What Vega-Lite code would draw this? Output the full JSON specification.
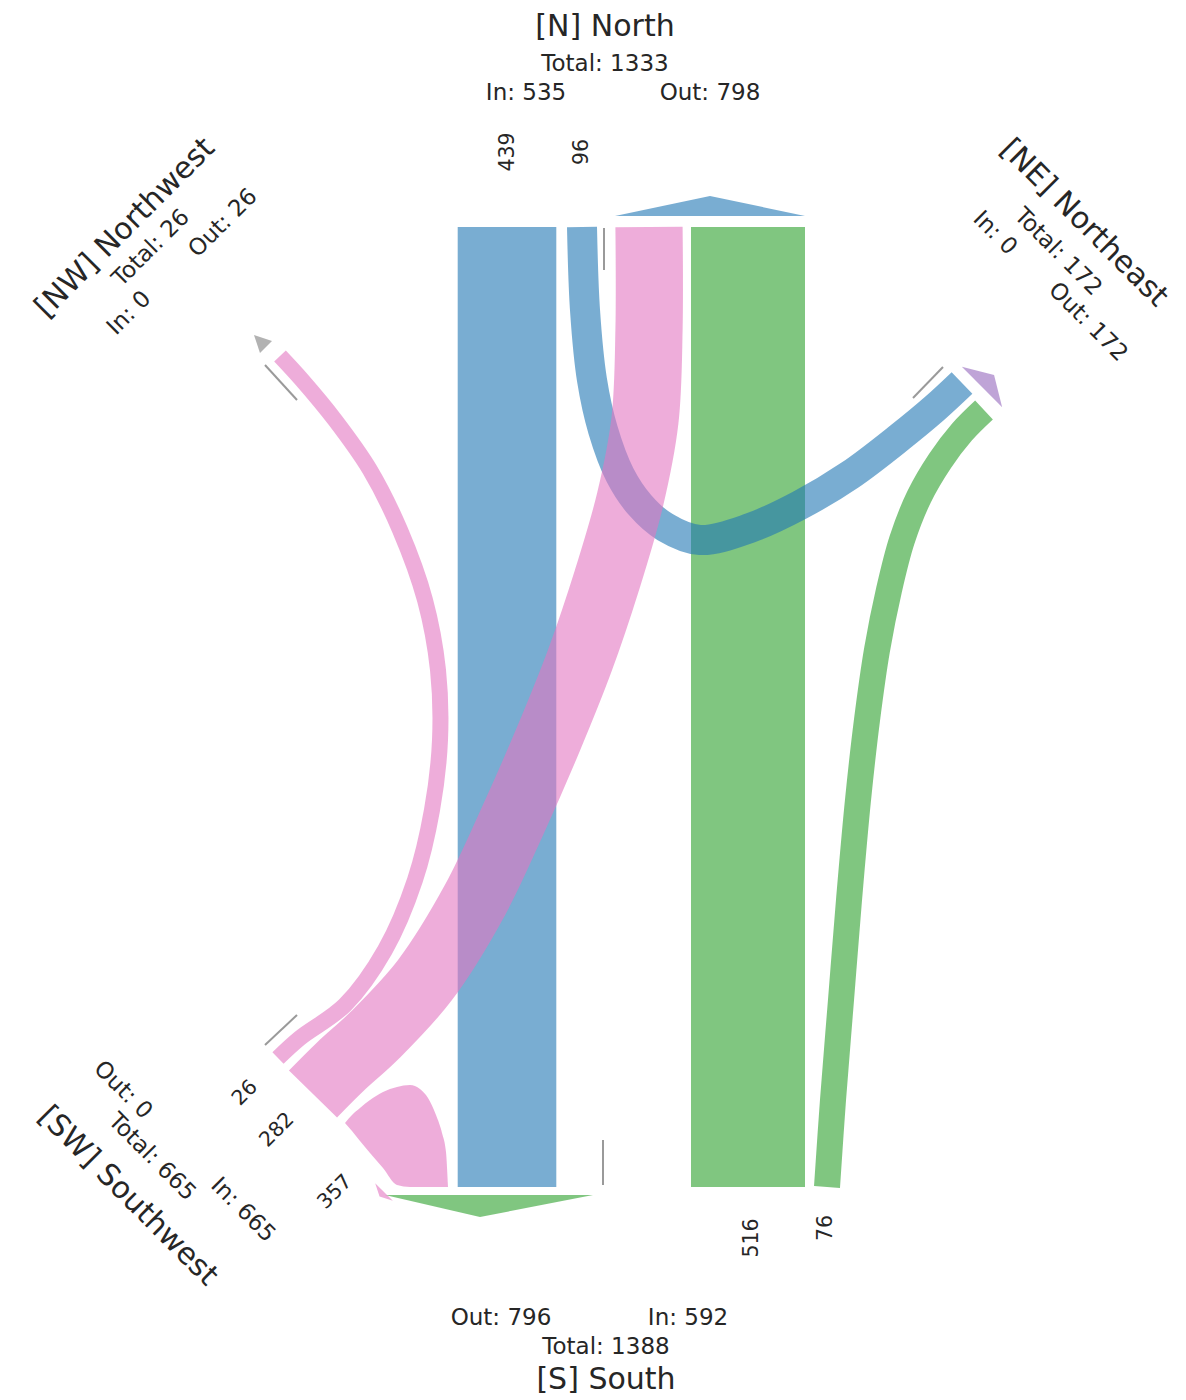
{
  "$schema": "https://vega.github.io/schema/vega-lite/v6.json",
  "width": 1186,
  "height": 1400,
  "padding": 0,
  "autosize": {"type": "none"},
  "background": "white",
  "config": {"view": {"stroke": null}, "text": {"font": "DejaVu Sans", "align": "center", "baseline": "middle", "fill": "#262626"}},
  "datasets": {
    "flows": [
      {"flow": "S-N", "from": "S", "to": "N", "value": 439},
      {"flow": "NE-N", "from": "NE", "to": "N", "value": 96},
      {"flow": "N-S", "from": "N", "to": "S", "value": 516},
      {"flow": "NE-S", "from": "NE", "to": "S", "value": 76},
      {"flow": "N-SW", "from": "N", "to": "SW", "value": 282},
      {"flow": "NW-SW", "from": "NW", "to": "SW", "value": 26},
      {"flow": "S-SW", "from": "S", "to": "SW", "value": 357}
    ],
    "paths": [
      {"flow": "S-N", "i": 0, "x": 507, "y": 1187},
      {"flow": "S-N", "i": 1, "x": 507, "y": 227},
      {"flow": "N-S", "i": 0, "x": 748, "y": 227},
      {"flow": "N-S", "i": 1, "x": 748, "y": 1187},
      {"flow": "NE-N", "i": 0, "x": 962, "y": 383},
      {"flow": "NE-N", "i": 1, "x": 935, "y": 408},
      {"flow": "NE-N", "i": 2, "x": 900, "y": 437},
      {"flow": "NE-N", "i": 3, "x": 850, "y": 475},
      {"flow": "NE-N", "i": 4, "x": 800, "y": 505},
      {"flow": "NE-N", "i": 5, "x": 750, "y": 528},
      {"flow": "NE-N", "i": 6, "x": 700, "y": 540},
      {"flow": "NE-N", "i": 7, "x": 665, "y": 527},
      {"flow": "NE-N", "i": 8, "x": 640, "y": 505},
      {"flow": "NE-N", "i": 9, "x": 620, "y": 475},
      {"flow": "NE-N", "i": 10, "x": 603, "y": 430},
      {"flow": "NE-N", "i": 11, "x": 592, "y": 380},
      {"flow": "NE-N", "i": 12, "x": 585, "y": 310},
      {"flow": "NE-N", "i": 13, "x": 582, "y": 227},
      {"flow": "NE-S", "i": 0, "x": 984, "y": 410},
      {"flow": "NE-S", "i": 1, "x": 962, "y": 432},
      {"flow": "NE-S", "i": 2, "x": 940, "y": 461},
      {"flow": "NE-S", "i": 3, "x": 919, "y": 497},
      {"flow": "NE-S", "i": 4, "x": 902, "y": 540},
      {"flow": "NE-S", "i": 5, "x": 889, "y": 590},
      {"flow": "NE-S", "i": 6, "x": 877, "y": 650},
      {"flow": "NE-S", "i": 7, "x": 867, "y": 720},
      {"flow": "NE-S", "i": 8, "x": 858, "y": 800},
      {"flow": "NE-S", "i": 9, "x": 849, "y": 900},
      {"flow": "NE-S", "i": 10, "x": 841, "y": 1000},
      {"flow": "NE-S", "i": 11, "x": 833, "y": 1100},
      {"flow": "NE-S", "i": 12, "x": 827, "y": 1187},
      {"flow": "N-SW", "i": 0, "x": 649, "y": 227},
      {"flow": "N-SW", "i": 1, "x": 649, "y": 330},
      {"flow": "N-SW", "i": 2, "x": 645, "y": 420},
      {"flow": "N-SW", "i": 3, "x": 630, "y": 500},
      {"flow": "N-SW", "i": 4, "x": 607, "y": 580},
      {"flow": "N-SW", "i": 5, "x": 580, "y": 660},
      {"flow": "N-SW", "i": 6, "x": 548, "y": 740},
      {"flow": "N-SW", "i": 7, "x": 513, "y": 820},
      {"flow": "N-SW", "i": 8, "x": 475, "y": 900},
      {"flow": "N-SW", "i": 9, "x": 425, "y": 980},
      {"flow": "N-SW", "i": 10, "x": 375, "y": 1035},
      {"flow": "N-SW", "i": 11, "x": 340, "y": 1067},
      {"flow": "N-SW", "i": 12, "x": 313, "y": 1094},
      {"flow": "NW-SW", "i": 0, "x": 280, "y": 356},
      {"flow": "NW-SW", "i": 1, "x": 302, "y": 380},
      {"flow": "NW-SW", "i": 2, "x": 335, "y": 420},
      {"flow": "NW-SW", "i": 3, "x": 370, "y": 470},
      {"flow": "NW-SW", "i": 4, "x": 400, "y": 530},
      {"flow": "NW-SW", "i": 5, "x": 425, "y": 600},
      {"flow": "NW-SW", "i": 6, "x": 438, "y": 670},
      {"flow": "NW-SW", "i": 7, "x": 440, "y": 740},
      {"flow": "NW-SW", "i": 8, "x": 432, "y": 810},
      {"flow": "NW-SW", "i": 9, "x": 415, "y": 880},
      {"flow": "NW-SW", "i": 10, "x": 385, "y": 950},
      {"flow": "NW-SW", "i": 11, "x": 345, "y": 1005},
      {"flow": "NW-SW", "i": 12, "x": 300, "y": 1038},
      {"flow": "NW-SW", "i": 13, "x": 278, "y": 1058}
    ],
    "lobe": [
      {"flow": "S-SW", "x": 345, "y": 1123, "y2": 1123},
      {"flow": "S-SW", "x": 352, "y": 1115, "y2": 1131},
      {"flow": "S-SW", "x": 360, "y": 1108, "y2": 1141},
      {"flow": "S-SW", "x": 370, "y": 1100, "y2": 1153},
      {"flow": "S-SW", "x": 383, "y": 1092, "y2": 1168},
      {"flow": "S-SW", "x": 397, "y": 1087, "y2": 1185},
      {"flow": "S-SW", "x": 410, "y": 1085, "y2": 1187},
      {"flow": "S-SW", "x": 420, "y": 1089, "y2": 1187},
      {"flow": "S-SW", "x": 428, "y": 1098, "y2": 1187},
      {"flow": "S-SW", "x": 436, "y": 1115, "y2": 1187},
      {"flow": "S-SW", "x": 442, "y": 1133, "y2": 1187},
      {"flow": "S-SW", "x": 446, "y": 1152, "y2": 1187},
      {"flow": "S-SW", "x": 448, "y": 1187, "y2": 1187}
    ],
    "tri": [
      {"node": "N", "x": 615, "y": 216, "y2": 216},
      {"node": "N", "x": 710, "y": 196, "y2": 216},
      {"node": "N", "x": 805, "y": 216, "y2": 216},
      {"node": "S", "x": 385, "y": 1195, "y2": 1195},
      {"node": "S", "x": 480, "y": 1195, "y2": 1217},
      {"node": "S", "x": 593, "y": 1195, "y2": 1195}
    ],
    "heads": [
      {"node": "NE", "x": 982, "y": 387},
      {"node": "NW", "x": 266, "y": 347},
      {"node": "SW", "x": 384, "y": 1192}
    ],
    "ticks": [
      {"id": "N", "i": 0, "x": 604, "y": 228},
      {"id": "N", "i": 1, "x": 604, "y": 270},
      {"id": "S", "i": 0, "x": 603, "y": 1140},
      {"id": "S", "i": 1, "x": 603, "y": 1185},
      {"id": "NE", "i": 0, "x": 913, "y": 398},
      {"id": "NE", "i": 1, "x": 943, "y": 367},
      {"id": "NW", "i": 0, "x": 265, "y": 365},
      {"id": "NW", "i": 1, "x": 297, "y": 400},
      {"id": "SW", "i": 0, "x": 265, "y": 1045},
      {"id": "SW", "i": 1, "x": 297, "y": 1015}
    ],
    "labels": [
      {"text": "[N] North", "x": 605, "y": 27, "level": "title", "orient": "h"},
      {"text": "Total: 1333", "x": 605, "y": 64, "level": "sub", "orient": "h"},
      {"text": "In: 535", "x": 526, "y": 93, "level": "sub", "orient": "h"},
      {"text": "Out: 798", "x": 710, "y": 93, "level": "sub", "orient": "h"},
      {"text": "Out: 796", "x": 501, "y": 1318, "level": "sub", "orient": "h"},
      {"text": "In: 592", "x": 688, "y": 1318, "level": "sub", "orient": "h"},
      {"text": "Total: 1388", "x": 606, "y": 1347, "level": "sub", "orient": "h"},
      {"text": "[S] South", "x": 606, "y": 1380, "level": "title", "orient": "h"},
      {"text": "439", "x": 508, "y": 152, "level": "num", "orient": "v"},
      {"text": "96", "x": 582, "y": 152, "level": "num", "orient": "v"},
      {"text": "516", "x": 752, "y": 1238, "level": "num", "orient": "v"},
      {"text": "76", "x": 826, "y": 1228, "level": "num", "orient": "v"},
      {"text": "[NW] Northwest", "x": 125, "y": 228, "level": "title", "orient": "up"},
      {"text": "Total: 26", "x": 151, "y": 248, "level": "sub", "orient": "up"},
      {"text": "In: 0", "x": 129, "y": 313, "level": "sub", "orient": "up"},
      {"text": "Out: 26", "x": 223, "y": 223, "level": "sub", "orient": "up"},
      {"text": "26", "x": 245, "y": 1093, "level": "num", "orient": "up"},
      {"text": "282", "x": 277, "y": 1130, "level": "num", "orient": "up"},
      {"text": "357", "x": 335, "y": 1192, "level": "num", "orient": "up"},
      {"text": "[NE] Northeast", "x": 1084, "y": 223, "level": "title", "orient": "down"},
      {"text": "Total: 172", "x": 1058, "y": 252, "level": "sub", "orient": "down"},
      {"text": "In: 0", "x": 995, "y": 233, "level": "sub", "orient": "down"},
      {"text": "Out: 172", "x": 1088, "y": 322, "level": "sub", "orient": "down"},
      {"text": "[SW] Southwest", "x": 128, "y": 1196, "level": "title", "orient": "down"},
      {"text": "Total: 665", "x": 152, "y": 1157, "level": "sub", "orient": "down"},
      {"text": "Out: 0", "x": 123, "y": 1090, "level": "sub", "orient": "down"},
      {"text": "In: 665", "x": 243, "y": 1210, "level": "sub", "orient": "down"}
    ]
  },
  "encoding": {
    "x": {"field": "x", "type": "quantitative", "scale": {"domain": [0, 1186], "nice": false, "zero": false}, "axis": null},
    "y": {"field": "y", "type": "quantitative", "scale": {"domain": [0, 1400], "nice": false, "zero": false, "reverse": true}, "axis": null}
  },
  "layer": [
    {
      "data": {"name": "paths"},
      "transform": [{"lookup": "flow", "from": {"data": {"name": "flows"}, "key": "flow", "fields": ["to", "value"]}}],
      "mark": {"type": "line", "interpolate": "catmull-rom", "strokeCap": "butt", "strokeOpacity": 0.6},
      "encoding": {
        "detail": {"field": "flow"},
        "order": {"field": "i", "type": "quantitative"},
        "color": {"field": "to", "type": "nominal", "scale": {"domain": ["N", "S", "SW", "NE", "NW"], "range": ["#1f77b4", "#2ca02c", "#e377c2", "#9467bd", "#7f7f7f"]}, "legend": null},
        "strokeWidth": {"field": "value", "type": "quantitative", "scale": {"domain": [0, 1000], "range": [10.8, 210.8]}, "legend": null}
      }
    },
    {
      "data": {"name": "lobe"},
      "transform": [{"lookup": "flow", "from": {"data": {"name": "flows"}, "key": "flow", "fields": ["to", "value"]}}],
      "mark": {"type": "area", "interpolate": "monotone", "fillOpacity": 0.6},
      "encoding": {
        "y2": {"field": "y2"},
        "color": {"field": "to", "type": "nominal", "legend": null}
      }
    },
    {
      "data": {"name": "tri"},
      "mark": {"type": "area", "interpolate": "linear", "fillOpacity": 0.6},
      "encoding": {
        "y2": {"field": "y2"},
        "detail": {"field": "node"},
        "color": {"field": "node", "type": "nominal", "legend": null}
      }
    },
    {
      "data": {"name": "heads"},
      "transform": [{"filter": "datum.node === 'NE'"}],
      "mark": {"type": "point", "shape": "M-1,0L1,0L0,-0.6Z", "size": 3249, "angle": 45, "filled": true, "opacity": 0.6},
      "encoding": {"color": {"field": "node", "type": "nominal", "legend": null}}
    },
    {
      "data": {"name": "heads"},
      "transform": [{"filter": "datum.node === 'NW'"}],
      "mark": {"type": "point", "shape": "M-1,0L1,0L0,-2Z", "size": 289, "angle": 315, "filled": true, "opacity": 0.6},
      "encoding": {"color": {"field": "node", "type": "nominal", "legend": null}}
    },
    {
      "data": {"name": "heads"},
      "transform": [{"filter": "datum.node === 'SW'"}],
      "mark": {"type": "point", "shape": "M-1,0L1,0L0,-0.5Z", "size": 625, "angle": 225, "filled": true, "opacity": 0.6},
      "encoding": {"color": {"field": "node", "type": "nominal", "legend": null}}
    },
    {
      "data": {"name": "ticks"},
      "mark": {"type": "line", "stroke": "#9a9a9a", "strokeWidth": 2},
      "encoding": {
        "detail": {"field": "id"},
        "order": {"field": "i", "type": "quantitative"}
      }
    },
    {
      "data": {"name": "labels"},
      "transform": [{"filter": "datum.orient === 'h' && datum.level === 'title'"}],
      "mark": {"type": "text", "fontSize": 30},
      "encoding": {"text": {"field": "text"}}
    },
    {
      "data": {"name": "labels"},
      "transform": [{"filter": "datum.orient === 'h' && datum.level === 'sub'"}],
      "mark": {"type": "text", "fontSize": 23},
      "encoding": {"text": {"field": "text"}}
    },
    {
      "data": {"name": "labels"},
      "transform": [{"filter": "datum.orient === 'v'"}],
      "mark": {"type": "text", "fontSize": 20.5, "angle": 270},
      "encoding": {"text": {"field": "text"}}
    },
    {
      "data": {"name": "labels"},
      "transform": [{"filter": "datum.orient === 'up' && datum.level === 'title'"}],
      "mark": {"type": "text", "fontSize": 30, "angle": 315},
      "encoding": {"text": {"field": "text"}}
    },
    {
      "data": {"name": "labels"},
      "transform": [{"filter": "datum.orient === 'up' && datum.level === 'sub'"}],
      "mark": {"type": "text", "fontSize": 23, "angle": 315},
      "encoding": {"text": {"field": "text"}}
    },
    {
      "data": {"name": "labels"},
      "transform": [{"filter": "datum.orient === 'up' && datum.level === 'num'"}],
      "mark": {"type": "text", "fontSize": 20.5, "angle": 315},
      "encoding": {"text": {"field": "text"}}
    },
    {
      "data": {"name": "labels"},
      "transform": [{"filter": "datum.orient === 'down' && datum.level === 'title'"}],
      "mark": {"type": "text", "fontSize": 30, "angle": 45},
      "encoding": {"text": {"field": "text"}}
    },
    {
      "data": {"name": "labels"},
      "transform": [{"filter": "datum.orient === 'down' && datum.level === 'sub'"}],
      "mark": {"type": "text", "fontSize": 23, "angle": 45},
      "encoding": {"text": {"field": "text"}}
    }
  ]
}
